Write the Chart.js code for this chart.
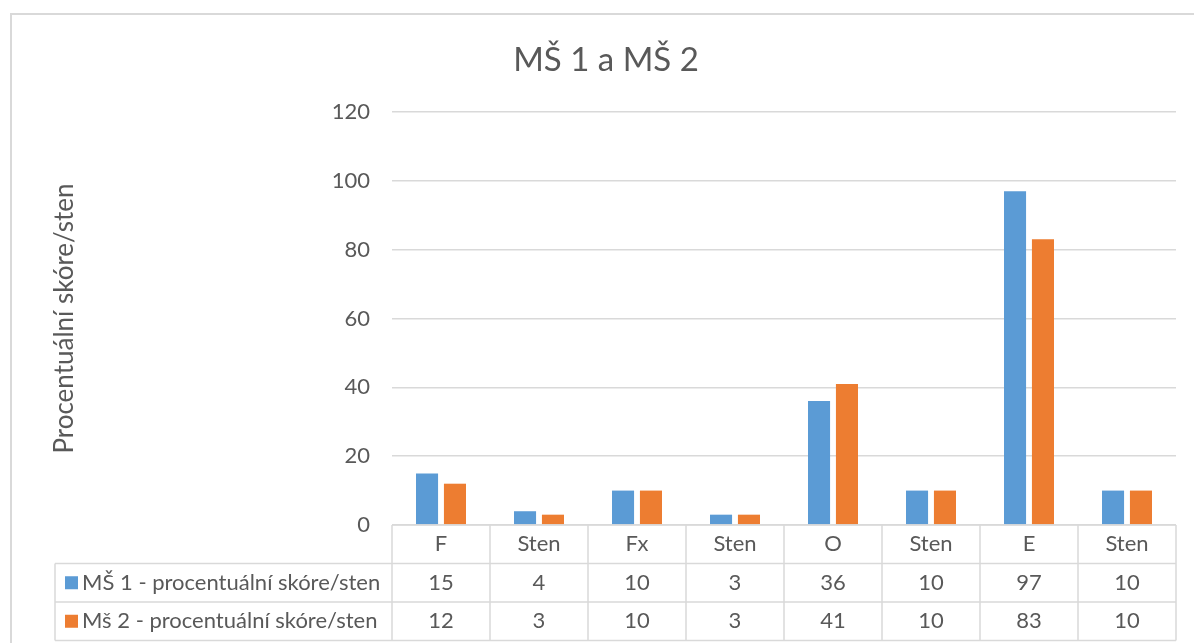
<!DOCTYPE html>
<html lang="cs">
<head>
<meta charset="utf-8">
<title>MŠ 1 a MŠ 2</title>
<script src="https://cdn.jsdelivr.net/npm/chart.js@4/dist/chart.umd.min.js"></script>
<style>
  html, body { margin: 0; padding: 0; background: #ffffff; }
  #wrap { width: 1194px; height: 643px; }
</style>
</head>
<body>
<div id="wrap"><canvas id="chart" width="1194" height="643"></canvas></div>
<script>
// Kategorie (řádek záhlaví tabulky pod grafem)
const categories = ['F', 'Sten', 'Fx', 'Sten', 'O', 'Sten', 'E', 'Sten'];

// Hodnoty obou řad
const ms1Values = [15, 4, 10, 3, 36, 10, 97, 10];
const ms2Values = [12, 3, 10, 3, 41, 10, 83, 10];

// Názvy řad
const ms1Label = 'MŠ 1 - procentuální skóre/sten';
const ms2Label = 'Mš 2 - procentuální skóre/sten';

// Osa Y
const yMin = 0;
const yMax = 120;
const yStep = 20;

const chartTitle = 'MŠ 1 a MŠ 2';
const yTitle = 'Procentuální skóre/sten';

const textColor = '#595959';
const lineColor = '#d9d9d9';
const fontFamily = 'Lato, "Open Sans", sans-serif';
const blue = '#5B9BD5';
const orange = '#ED7D31';

// Rámeček celé oblasti grafu
const framePlugin = {
  id: 'frame',
  beforeDraw(chart) {
    const ctx = chart.ctx;
    ctx.save();
    ctx.fillStyle = '#ffffff';
    ctx.fillRect(0, 0, chart.width, chart.height);
    ctx.strokeStyle = lineColor;
    ctx.lineWidth = 2;
    ctx.strokeRect(11, 14, chart.width + 20, chart.height + 20);
    ctx.restore();
  }
};

// Datová tabulka pod osou X
const tablePlugin = {
  id: 'dataTable',
  afterDraw(chart) {
    const ctx = chart.ctx;
    const area = chart.chartArea;
    const xs = chart.scales.x;
    const n = categories.length;
    const colW = (area.right - area.left) / n;
    const rowH = 38.5;
    const top = area.bottom;
    const labelLeft = 55;
    const rows = [
      { label: ms1Label, color: blue, values: ms1Values },
      { label: ms2Label, color: orange, values: ms2Values }
    ];

    ctx.save();
    ctx.strokeStyle = lineColor;
    ctx.lineWidth = 1.5;
    ctx.beginPath();
    ctx.moveTo(area.left, top);
    ctx.lineTo(area.right, top);
    for (let r = 1; r <= rows.length + 1; r++) {
      ctx.moveTo(labelLeft, top + r * rowH);
      ctx.lineTo(area.right, top + r * rowH);
    }
    for (let i = 0; i <= n; i++) {
      const x = area.left + i * colW;
      ctx.moveTo(x, top);
      ctx.lineTo(x, top + (rows.length + 1) * rowH);
    }
    ctx.moveTo(labelLeft, top + rowH);
    ctx.lineTo(labelLeft, top + (rows.length + 1) * rowH);
    ctx.stroke();

    ctx.font = '22px ' + fontFamily;
    ctx.fillStyle = textColor;
    ctx.textBaseline = 'middle';
    ctx.textAlign = 'center';
    categories.forEach((c, i) => {
      ctx.fillText(c, xs.getPixelForValue(i), top + rowH / 2);
    });
    rows.forEach((row, r) => {
      const cy = top + (r + 1.5) * rowH;
      row.values.forEach((v, i) => {
        ctx.fillStyle = textColor;
        ctx.textAlign = 'center';
        ctx.fillText(String(v), xs.getPixelForValue(i), cy);
      });
      ctx.fillStyle = row.color;
      ctx.fillRect(65, cy - 6.5, 13, 13);
      ctx.fillStyle = textColor;
      ctx.textAlign = 'left';
      ctx.fillText(row.label, 82, cy);
    });
    ctx.restore();
  }
};

new Chart(document.getElementById('chart'), {
  type: 'bar',
  data: {
    labels: categories,
    datasets: [
      { label: ms1Label, data: ms1Values, backgroundColor: blue,
        categoryPercentage: 0.57, barPercentage: 0.79 },
      { label: ms2Label, data: ms2Values, backgroundColor: orange,
        categoryPercentage: 0.57, barPercentage: 0.79 }
    ]
  },
  options: {
    responsive: false,
    devicePixelRatio: 1,
    animation: false,
    layout: { padding: { left: 36, right: 18, top: 0, bottom: 118 } },
    plugins: {
      legend: { display: false },
      tooltip: { enabled: false },
      title: {
        display: true,
        text: chartTitle,
        color: textColor,
        font: { family: fontFamily, size: 33, weight: 'normal' },
        padding: { top: 41, bottom: 31.4 }
      }
    },
    scales: {
      x: { display: false },
      y: {
        min: yMin,
        max: yMax,
        border: { display: false },
        grid: { color: lineColor, lineWidth: 1.5, drawTicks: false },
        ticks: {
          stepSize: yStep,
          color: textColor,
          padding: 22,
          font: { family: fontFamily, size: 22 }
        },
        title: {
          display: true,
          text: yTitle,
          color: textColor,
          font: { family: fontFamily, size: 26 },
          padding: { top: 13, bottom: 0 }
        },
        afterFit(scale) { scale.width = 356; }
      }
    }
  },
  plugins: [framePlugin, tablePlugin]
});
</script>
</body>
</html>
